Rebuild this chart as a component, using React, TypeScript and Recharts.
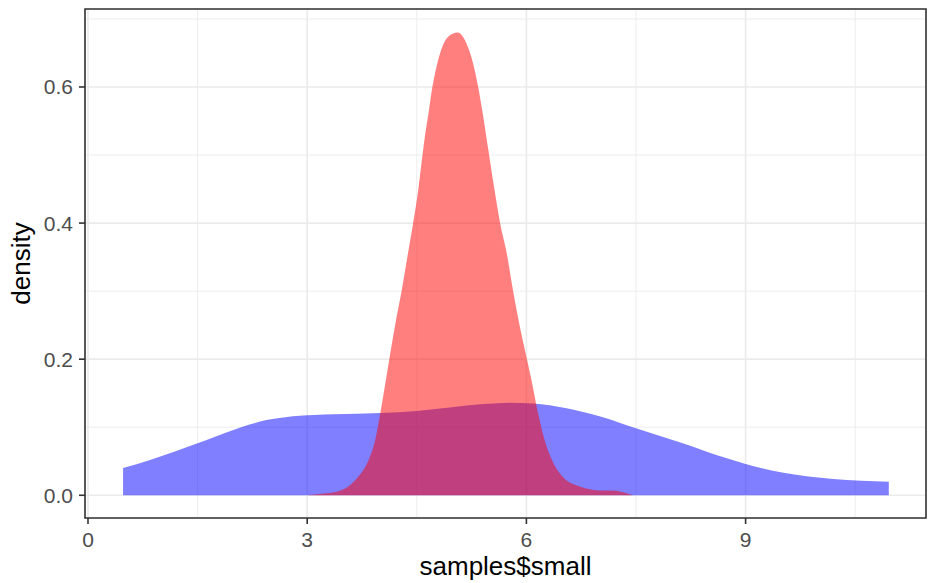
import * as React from "react";
import {
  AreaChart,
  Area,
  XAxis,
  YAxis,
  CartesianGrid,
  ReferenceArea,
} from "recharts";

// density of samples$small
const redX = [3.0, 3.13, 3.4, 3.59, 3.72, 3.84, 3.93, 4.0, 4.07, 4.13, 4.2, 4.29, 4.38, 4.45, 4.52, 4.57, 4.61, 4.66, 4.7, 4.75, 4.82, 4.93, 5.06, 5.18, 5.27, 5.34, 5.41, 5.48, 5.55, 5.64, 5.73, 5.82, 5.91, 6.03, 6.07, 6.16, 6.25, 6.35, 6.5, 6.73, 6.9, 7.0, 7.18, 7.37, 7.46];
const redY = [0.0, 0.0015, 0.005, 0.015, 0.03, 0.052, 0.081, 0.12, 0.165, 0.204, 0.248, 0.299, 0.356, 0.4, 0.449, 0.493, 0.527, 0.561, 0.591, 0.62, 0.65, 0.674, 0.68, 0.664, 0.635, 0.6, 0.556, 0.507, 0.458, 0.4, 0.356, 0.299, 0.248, 0.189, 0.169, 0.12, 0.081, 0.052, 0.027, 0.013, 0.008, 0.007, 0.007, 0.003, 0.0];

const blueX = [0.48, 0.85, 1.49, 1.99, 2.2, 2.44, 2.7, 2.9, 3.1, 3.36, 4.0, 4.5, 4.95, 5.41, 5.78, 6.09, 6.55, 7.0, 7.51, 8.15, 8.6, 9.0, 9.52, 10.2, 10.96];
const blueY = [0.04, 0.052, 0.076, 0.096, 0.1035, 0.1105, 0.1148, 0.1168, 0.118, 0.119, 0.121, 0.124, 0.129, 0.134, 0.136, 0.135, 0.128, 0.116, 0.098, 0.076, 0.059, 0.046, 0.033, 0.024, 0.02];

const xTicks = [0, 3, 6, 9];
const xMinorTicks = [1.5, 4.5, 7.5, 10.5];
const yTicks = [0, 0.2, 0.4, 0.6];
const yMinorTicks = [0.1, 0.3, 0.5, 0.7];
const xDomain: [number, number] = [-0.041, 11.469];
const yDomain: [number, number] = [-0.0334, 0.7146];

const redData = redX.map((x, i) => ({ x, y: redY[i] }));
const blueData = blueX.map((x, i) => ({ x, y: blueY[i] }));

const FONT = "'Liberation Sans', Arial, sans-serif";

const renderXTitle = (props: any) => {
  const vb = props.viewBox;
  return (
    <text x={vb.x + vb.width / 2} y={vb.y + vb.height - 8} textAnchor="middle" fontSize={26} fontFamily={FONT} fill="#000">
      samples$small
    </text>
  );
};

const renderYTitle = (props: any) => {
  const vb = props.viewBox;
  const cy = vb.y + vb.height / 2;
  return (
    <text x={0} y={0} transform={`translate(30,${cy}) rotate(-90)`} textAnchor="middle" fontSize={26} fontFamily={FONT} fill="#000">
      density
    </text>
  );
};

export default function App() {
  const tick = { fill: "#4D4D4D", fontSize: 21, fontFamily: FONT };
  const tickLine = { stroke: "#333333", strokeWidth: 1.6 };
  return (
    <div style={{ width: 930, height: 583, background: "#fff" }}>
      <style>{"body{margin:0}"}</style>
      <AreaChart width={930} height={583} margin={{ top: 9, right: 4, left: 0, bottom: 0 }}>
        <XAxis xAxisId="minor" type="number" dataKey="x" domain={xDomain} ticks={xMinorTicks} allowDataOverflow hide />
        <YAxis yAxisId="minor" type="number" domain={yDomain} ticks={yMinorTicks} allowDataOverflow hide />
        <CartesianGrid xAxisId="minor" yAxisId="minor" stroke="#EBEBEB" strokeWidth={0.9} />
        <CartesianGrid stroke="#EBEBEB" strokeWidth={1.7} />
        <XAxis
          type="number"
          dataKey="x"
          domain={xDomain}
          ticks={xTicks}
          allowDataOverflow
          height={65}
          axisLine={false}
          tickLine={tickLine}
          tickSize={6}
          tickMargin={8}
          tick={tick}
          label={{ content: renderXTitle }}
        />
        <YAxis
          type="number"
          domain={yDomain}
          ticks={yTicks}
          allowDataOverflow
          width={85}
          axisLine={false}
          tickLine={tickLine}
          tickSize={6}
          tickMargin={6}
          tick={tick}
          tickFormatter={(v: number) => v.toFixed(1)}
          label={{ content: renderYTitle }}
        />
        <Area
          data={blueData}
          dataKey="y"
          type="monotone"
          baseValue={0}
          stroke="none"
          fill="#0000FF"
          fillOpacity={0.5}
          isAnimationActive={false}
        />
        <Area
          data={redData}
          dataKey="y"
          type="monotone"
          baseValue={0}
          stroke="none"
          fill="#FF0000"
          fillOpacity={0.5}
          isAnimationActive={false}
        />
        <ReferenceArea
          x1={xDomain[0]}
          x2={xDomain[1]}
          y1={yDomain[0]}
          y2={yDomain[1]}
          fill="none"
          stroke="#333333"
          strokeWidth={1.6}
          ifOverflow="visible"
        />
      </AreaChart>
    </div>
  );
}
